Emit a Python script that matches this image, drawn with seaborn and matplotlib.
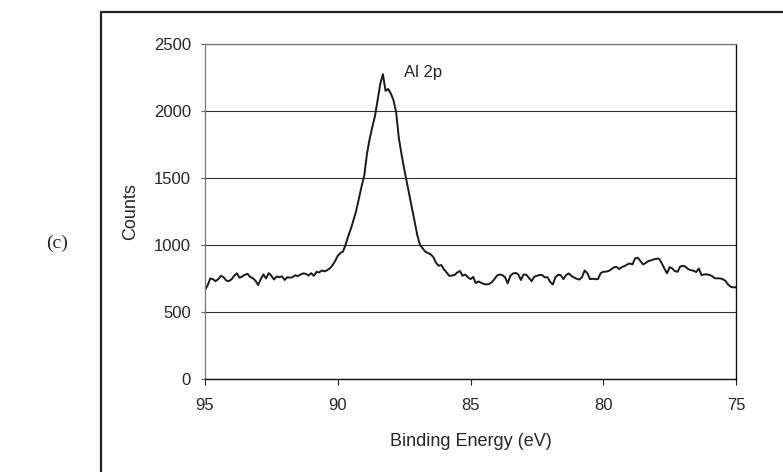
import numpy as np
import pandas as pd
import matplotlib
matplotlib.use("Agg")
import matplotlib.pyplot as plt
from matplotlib.lines import Line2D
import seaborn as sns

# Al 2p XPS spectrum, 0.1 eV steps from 95.0 eV down to 75.0 eV
counts = [
    664, 700, 750, 745, 730, 745, 770, 760, 735, 731,
    744, 770, 789, 755, 765, 778, 785, 762, 752, 734,
    701, 745, 780, 750, 790, 770, 742, 765, 760, 766,
    739, 760, 756, 760, 774, 768, 780, 788, 785, 772,
    790, 770, 800, 795, 810, 803, 812, 825, 848, 880,
    920, 940, 952, 1005, 1070, 1124, 1190, 1260, 1350, 1440,
    1520, 1680, 1790, 1880, 1960, 2080, 2200, 2275, 2150, 2165,
    2130, 2080, 1990, 1800, 1680, 1570, 1470, 1370, 1270, 1170,
    1070, 1000, 975, 950, 940, 930, 910, 868, 845, 851,
    818, 795, 770, 772, 776, 795, 806, 770, 780, 760,
    745, 762, 716, 728, 718, 709, 706, 708, 722, 745,
    772, 780, 775, 760, 714, 770, 787, 792, 780, 739,
    780, 778, 755, 730, 763, 770, 776, 776, 758, 760,
    725, 705, 760, 778, 775, 745, 776, 788, 770, 757,
    748, 742, 760, 810, 790, 745, 748, 745, 745, 789,
    800, 801, 806, 818, 833, 837, 820, 836, 842, 855,
    862, 855, 900, 905, 880, 855, 866, 880, 885, 893,
    897, 898, 865, 825, 789, 835, 825, 805, 800, 840,
    845, 838, 820, 812, 808, 798, 825, 775, 780, 781,
    777, 768, 752, 751, 751, 745, 733, 705, 688, 684,
    684,
]
energy_start = 95.0
energy_end = 75.0
energy = np.linspace(energy_start, energy_end, len(counts))

x_ticks = [95, 90, 85, 80, 75]
y_ticks = [0, 500, 1000, 1500, 2000, 2500]
peak_label = "Al 2p"
panel_label = "(c)"
x_label = "Binding Energy (eV)"
y_label = "Counts"

df = pd.DataFrame({"energy": energy, "counts": counts})

sns.set_style("white")
plt.rcParams["font.family"] = ["Liberation Sans", "DejaVu Sans"]

fig = plt.figure(figsize=(7.83, 4.72), dpi=100)
ax = fig.add_axes([205 / 783, 1 - 379 / 472, (736 - 205) / 783, (379 - 44) / 472])

sns.lineplot(data=df, x="energy", y="counts", ax=ax, color="#1a1a1a",
             linewidth=1.4, sort=False, estimator=None)

ax.set_xlim(95, 75)
ax.set_ylim(0, 2500)
ax.set_xticks(x_ticks)
ax.set_yticks(y_ticks)
ax.set_xticklabels([str(v) for v in x_ticks], fontsize=12)
ax.set_yticklabels([str(v) for v in y_ticks], fontsize=12)
ax.tick_params(axis="x", direction="out", length=4, width=0.8, color="#222",
               pad=10, bottom=True)
ax.tick_params(axis="y", direction="out", length=3, width=0.8, color="#666",
               pad=7, left=True)

ax.yaxis.grid(True, color="#333333", linewidth=0.8)
ax.xaxis.grid(False)
ax.set_axisbelow(True)

for side in ["left", "top"]:
    ax.spines[side].set_visible(True)
    ax.spines[side].set_color("#777777")
    ax.spines[side].set_linewidth(0.9)
for side in ["right", "bottom"]:
    ax.spines[side].set_visible(True)
    ax.spines[side].set_color("#111111")
    ax.spines[side].set_linewidth(1.0)

ax.set_xlabel(x_label, fontsize=13)
ax.set_ylabel(y_label, fontsize=13)
ax.xaxis.set_label_coords(0.5, -(442 - 379) / 335, transform=ax.transAxes)
ax.yaxis.set_label_coords(-(205 - 131) / 531, 0.5, transform=ax.transAxes)
ax.xaxis.label.set_va("center")
ax.yaxis.label.set_va("center")

ax.text(86.77, 2290, peak_label, fontsize=12, ha="center", va="center")

fig.text(57 / 783, 1 - 243 / 472, panel_label, fontsize=14,
         family=["Liberation Serif", "DejaVu Serif"], ha="center", va="center")

# outer frame (left and top edges visible)
fig.add_artist(Line2D([101 / 783, 101 / 783], [0, 1 - 12 / 472],
                      transform=fig.transFigure, color="#2a2020", linewidth=1.6))
fig.add_artist(Line2D([101 / 783, 1], [1 - 12 / 472, 1 - 12 / 472],
                      transform=fig.transFigure, color="#2a2020", linewidth=1.6))

fig.savefig("out.png", dpi=100)
